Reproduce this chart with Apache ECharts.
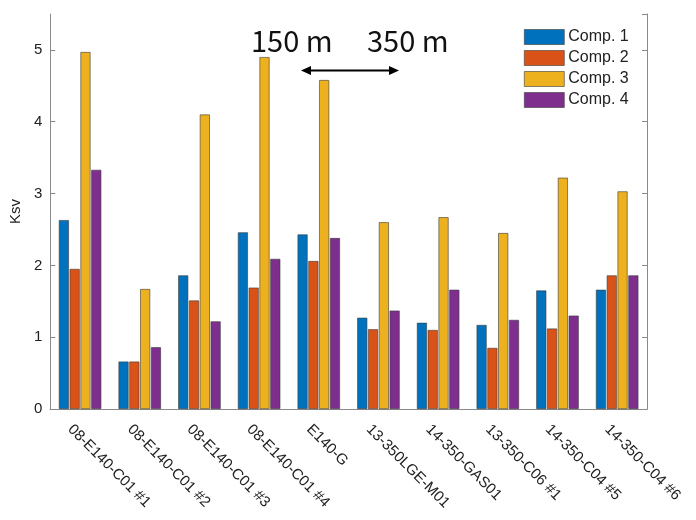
<!DOCTYPE html>
<html><head><meta charset="utf-8">
<script src="https://cdn.jsdelivr.net/npm/echarts@6/dist/echarts.min.js"></script>
<style>html,body{margin:0;padding:0;background:#fff}#c{width:696px;height:520px}</style>
</head><body><div id="c"></div>
<script>
const categories = ['08-E140-C01 #1','08-E140-C01 #2','08-E140-C01 #3','08-E140-C01 #4','E140-G','13-350LGE-M01','14-350-GAS01','13-350-C06 #1','14-350-C04 #5','14-350-C04 #6'];
const comp1 = [2.63, 0.66, 1.86, 2.46, 2.43, 1.27, 1.20, 1.17, 1.65, 1.66];
const comp2 = [1.95, 0.66, 1.51, 1.69, 2.06, 1.11, 1.10, 0.85, 1.12, 1.86];
const comp3 = [4.97, 1.67, 4.10, 4.90, 4.58, 2.60, 2.67, 2.45, 3.22, 3.03];
const comp4 = [3.33, 0.86, 1.22, 2.09, 2.38, 1.37, 1.66, 1.24, 1.30, 1.86];
const seriesNames = ['Comp. 1','Comp. 2','Comp. 3','Comp. 4'];
const colors = ['#0072BD','#D95319','#EDB120','#7E2F8E'];

const chart = echarts.init(document.getElementById('c'));
const font = 'Liberation Sans, Arial, sans-serif';
const axisCol = '#8a8a8a';
function mk(name, data, i){
  return {name:name, type:'bar', data:data, barWidth:10, barGap:'8%',
    itemStyle:{color:colors[i], borderColor:'#3a3a3a', borderWidth:0.6}, xAxisIndex:0, yAxisIndex:0};
}
chart.setOption({
  animation:false,
  textStyle:{fontFamily:font},
  grid:{left:50, right:49, top:14, bottom:111, show:false},
  legend:{orient:'vertical', left:524, top:29, padding:0, itemWidth:40, itemHeight:15, itemGap:5, icon:'rect',
    data:seriesNames, textStyle:{fontSize:16, lineHeight:15, color:'#222', fontFamily:font, padding:[0,0,0,-1]},
    itemStyle:{borderColor:'#3a3a3a', borderWidth:0.6}},
  xAxis:[{type:'category', data:categories, position:'bottom',
    axisLine:{lineStyle:{color:axisCol, width:1}},
    axisTick:{inside:true, alignWithLabel:true, length:5, lineStyle:{color:axisCol}},
    axisLabel:{rotate:-45, interval:0, fontSize:15, color:'#222', margin:28, padding:[34,0,0,-14]}},
   {type:'category', data:categories, position:'top',
    axisLine:{lineStyle:{color:axisCol, width:1}},
    axisTick:{inside:true, alignWithLabel:true, length:5, lineStyle:{color:axisCol}},
    axisLabel:{show:false}}],
  yAxis:[{type:'value', min:0, max:5.5, interval:1, name:'Ksv', nameLocation:'middle', nameGap:21,
    nameTextStyle:{fontSize:15, color:'#222'},
    axisLine:{show:true, lineStyle:{color:axisCol, width:1}},
    axisTick:{show:true, inside:true, length:5, lineStyle:{color:axisCol}},
    axisLabel:{fontSize:15, color:'#222', margin:8, showMaxLabel:false},
    splitLine:{show:false}},
   {type:'value', min:0, max:5.5, interval:1, position:'right',
    axisLine:{show:true, lineStyle:{color:axisCol, width:1}},
    axisTick:{show:true, inside:true, length:5, lineStyle:{color:axisCol}},
    axisLabel:{show:false}, splitLine:{show:false}}],
  series:[mk(seriesNames[0],comp1,0), mk(seriesNames[1],comp2,1), mk(seriesNames[2],comp3,2), mk(seriesNames[3],comp4,3)],
  graphic:[
    {type:'text', left:251, top:26, style:{text:'150 m', font:'29px "Noto Sans CJK JP", sans-serif', fill:'#111'}},
    {type:'text', left:367, top:26, style:{text:'350 m', font:'29px "Noto Sans CJK JP", sans-serif', fill:'#111'}},
    {type:'line', shape:{x1:308, y1:70.5, x2:392, y2:70.5}, style:{stroke:'#000', lineWidth:2}},
    {type:'polygon', shape:{points:[[301,70.5],[311,66],[311,75]]}, style:{fill:'#000'}},
    {type:'polygon', shape:{points:[[399,70.5],[389,66],[389,75]]}, style:{fill:'#000'}}
  ]
});
</script></body></html>
